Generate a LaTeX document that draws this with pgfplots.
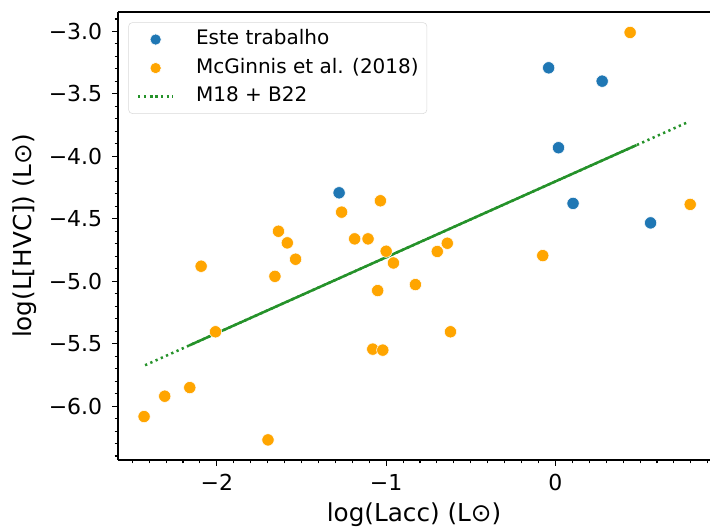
\documentclass[border=0pt]{standalone}
\usepackage{fontspec}
\setmainfont{DejaVu Sans}
\usepackage{pgfplots}
\pgfplotsset{compat=1.18}

\definecolor{tabblue}{HTML}{1F77B4}
\definecolor{mplorange}{HTML}{FFA500}
\definecolor{fitgreen}{HTML}{25922A}

\begin{document}
\begin{tikzpicture}
\begin{axis}[
  at={(0,0)}, anchor=south west,
  scale only axis, width=444pt, height=336pt,
  xmin=-2.584, xmax=0.913, ymin=-6.432, ymax=-2.844,
  axis x line*=box, axis y line*=left,
  axis line style={line width=0.8pt},
  tick align=outside,
  major tick length=4.3pt, minor tick length=2.5pt,
  every tick/.style={black, line width=0.8pt},
  xtick pos=bottom, ytick pos=left,
  xtick={-2,-1,0}, xticklabels={−2,−1,0},
  ytick={-6,-5.5,-5,-4.5,-4,-3.5,-3},
  yticklabels={−6.0,−5.5,−5.0,−4.5,−4.0,−3.5,−3.0},
  minor xtick={-2.5,-2.4,...,0.95},
  minor ytick={-6.4,-6.3,...,-2.85},
  tick label style={font=\fontsize{16.5}{18}\selectfont},
  xticklabel style={yshift=-3pt},
  yticklabel style={xshift=-4pt},
  xlabel={log(Lacc) (L⊙)}, ylabel={log(L[HVC]) (L⊙)},
  label style={font=\fontsize{18.5}{20}\selectfont},
  xlabel style={at={(axis description cs:0.5,-0.1228)}, anchor=center},
  ylabel style={at={(axis description cs:-0.157,0.5)}, anchor=center},
  legend style={at={(0,1)}, anchor=north west, xshift=7.7pt, yshift=-7.7pt,
    draw=black!15, rounded corners=3pt, font=\fontsize{15}{17}\selectfont,
    inner xsep=6.2pt, inner ysep=5.5pt, row sep=6.9pt, column sep=16.2pt,
    nodes={inner sep=0pt, text height=11pt, text depth=3.5pt}},
  legend cell align=left,
  legend image code/.code={\draw[mark repeat=2,mark phase=2,mark size=4.2pt,#1]
    plot coordinates {(0cm,0cm) (0.463cm,0cm) (0.926cm,0cm)};},
]
\addplot[only marks, mark=*, mark size=4.6pt, tabblue,
  mark options={draw=white, line width=0.4pt, fill=tabblue}] coordinates {
  (-1.278,-4.292) (-0.040,-3.291) (0.276,-3.398) (0.018,-3.931)
  (0.104,-4.377) (0.562,-4.533) };
\addplot[only marks, mark=*, mark size=4.6pt, mplorange,
  mark options={draw=white, line width=0.4pt, fill=mplorange}] coordinates {
  (-2.430,-6.084) (-2.308,-5.921) (-2.160,-5.852) (-2.093,-4.880)
  (-2.008,-5.405) (-1.698,-6.271) (-1.657,-4.961) (-1.636,-4.600)
  (-1.584,-4.693) (-1.535,-4.824) (-1.263,-4.447) (-1.186,-4.661)
  (-1.107,-4.661) (-1.079,-5.544) (-1.050,-5.075) (-1.034,-4.356)
  (-1.020,-5.552) (-1.000,-4.760) (-0.957,-4.854) (-0.827,-5.027)
  (-0.698,-4.762) (-0.639,-4.696) (-0.620,-5.405) (-0.075,-4.795)
  (0.441,-3.008) (0.796,-4.385) };
\addplot[fitgreen, line width=1.9pt, dash pattern=on 1.7pt off 2.6pt] coordinates {
  (-2.424,-5.673) (0.789,-3.722) };
\addplot[fitgreen, line width=1.9pt, forget plot] coordinates {
  (-2.164,-5.515) (0.479,-3.910) };
\legend{Este trabalho, McGinnis et al. (2018), M18 + B22}
\end{axis}
\pgfresetboundingbox
\useasboundingbox (-88.5pt,-51.75pt) rectangle (444pt,345pt);
\end{tikzpicture}
\end{document}
